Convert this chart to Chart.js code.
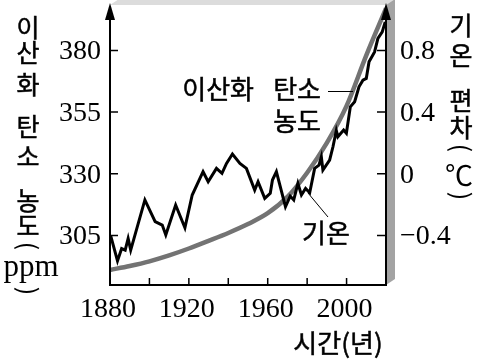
<!DOCTYPE html>
<html>
<head>
<meta charset="utf-8">
<script src="https://cdn.jsdelivr.net/npm/chart.js@4"></script>
<style>
  html, body { margin: 0; padding: 0; background: #fff; }
  #wrap { width: 482px; height: 361px; }
</style>
</head>
<body>
<div id="wrap"><canvas id="chart" width="482" height="361"></canvas></div>
<script>
// temperature anomaly trace (year, °C)
const tempYears = [1880.3, 1883.8, 1885.9, 1887.7, 1889.2, 1890.5, 1897.7, 1902.9, 1906.5, 1908.3,
  1913.3, 1918.0, 1921.7, 1927.2, 1929.8, 1934.0, 1936.8, 1939.1, 1942.1, 1945.9,
  1949.2, 1953.4, 1955.1, 1958.5, 1961.3, 1962.4, 1964.4, 1969.0, 1971.4, 1973.2,
  1975.3, 1977.1, 1979.2, 1981.3, 1983.8, 1986.0, 1987.2, 1988.0, 1991.4, 1993.1,
  1994.8, 1995.6, 1998.5, 1999.9, 2001.9, 2004.1, 2006.3, 2008.3, 2010.0, 2011.4,
  2014.2, 2015.9, 2018.1, 2019.6];
const tempValues = [-0.40, -0.565, -0.485, -0.495, -0.42, -0.495, -0.17, -0.31, -0.333, -0.397,
  -0.203, -0.35, -0.138, 0.013, -0.052, 0.035, 0.003, 0.067, 0.128, 0.067,
  0.035, -0.106, -0.052, -0.16, -0.127, -0.041, 0.013, -0.214, -0.145, -0.17,
  -0.062, -0.138, -0.095, -0.123, 0.035, 0.056, 0.11, 0.024, 0.089, 0.175,
  0.28, 0.24, 0.283, 0.262, 0.434, 0.467, 0.564, 0.607, 0.618, 0.726,
  0.79, 0.878, 0.92, 0.985];

// CO2 concentration curve (year, ppm)
const co2Years = [1880, 1890, 1900, 1910, 1920, 1930, 1940, 1950, 1960, 1970, 1980, 1990, 2000, 2010, 2020];
const co2Values = [291, 292.6, 294.5, 296.9, 299.7, 302.8, 306, 309.6, 314, 320.6, 330.4, 342.5, 357.5, 378, 397];

// axes
const xTickMarks = [1900, 1920, 1940, 1960, 1980, 2000];
const xTickLabels = [1880, 1920, 1960, 2000];
const co2Ticks = [305, 330, 355, 380];
const tempTicks = [-0.4, 0, 0.4, 0.8];
const tempTickLabels = ['\u22120.4', '0', '0.4', '0.8'];

const SERIF = '"Liberation Serif", "Times New Roman", serif';
const KR = '"Noto Sans CJK KR", "Noto Sans", sans-serif';
const NUM_FONT = '28px ' + SERIF;

// korean text a touch heavier, like the print
function krText(ctx, s, x, y) {
  ctx.fillText(s, x, y);
  ctx.lineWidth = 0.5;
  ctx.strokeText(s, x, y);
}
function vchar(ctx, ch, x, y, font) {
  ctx.font = font;
  ctx.textAlign = 'center';
  ctx.textBaseline = 'middle';
  krText(ctx, ch, x, y);
}
function vparen(ctx, ch, x, y) {
  ctx.save();
  ctx.translate(x, y);
  ctx.rotate(Math.PI / 2);
  ctx.font = '25px ' + KR;
  ctx.textAlign = 'center';
  ctx.textBaseline = 'middle';
  ctx.fillText(ch, 0, 0);
  ctx.restore();
}

const boxPlugin = {
  id: 'box',
  beforeDatasetsDraw(chart) {
    const { ctx, chartArea: a } = chart;
    const dx = 9, dy = -6;
    ctx.save();
    ctx.fillStyle = '#dcdcdc';
    ctx.beginPath();
    ctx.moveTo(a.left, a.top); ctx.lineTo(a.left + dx, a.top + dy);
    ctx.lineTo(a.right + dx, a.top + dy); ctx.lineTo(a.right, a.top);
    ctx.closePath(); ctx.fill();
    ctx.fillStyle = '#a3a3a3';
    ctx.beginPath();
    ctx.moveTo(a.right, a.top); ctx.lineTo(a.right + dx, a.top + dy);
    ctx.lineTo(a.right + dx, a.bottom + dy); ctx.lineTo(a.right, a.bottom);
    ctx.closePath(); ctx.fill();
    ctx.restore();
  },
  afterDatasetsDraw(chart) {
    const { ctx, chartArea: a, scales } = chart;
    const sx = scales.x, sy = scales.y, sy2 = scales.y2;
    ctx.save();
    ctx.strokeStyle = '#000';
    ctx.fillStyle = '#000';
    // axis lines
    ctx.lineWidth = 2;
    ctx.beginPath();
    ctx.moveTo(a.left, a.top + 8); ctx.lineTo(a.left, a.bottom);
    ctx.lineTo(a.right, a.bottom); ctx.lineTo(a.right, a.top + 8);
    ctx.stroke();
    // arrows
    [a.left, a.right].forEach(x => {
      ctx.beginPath();
      ctx.moveTo(x, a.top - 2); ctx.lineTo(x - 5, a.top + 15); ctx.lineTo(x + 5, a.top + 15);
      ctx.closePath(); ctx.fill();
    });
    // inward ticks
    ctx.lineWidth = 1.5;
    ctx.beginPath();
    xTickMarks.forEach(v => { const x = sx.getPixelForValue(v); ctx.moveTo(x, a.bottom); ctx.lineTo(x, a.bottom - 7); });
    co2Ticks.forEach(v => { const y = sy.getPixelForValue(v); ctx.moveTo(a.left, y); ctx.lineTo(a.left + 8, y); });
    tempTicks.forEach(v => { const y = sy2.getPixelForValue(v); ctx.moveTo(a.right, y); ctx.lineTo(a.right - 9, y); });
    ctx.stroke();

    // tick labels
    ctx.font = NUM_FONT;
    ctx.textBaseline = 'alphabetic';
    ctx.textAlign = 'right';
    co2Ticks.forEach(v => ctx.fillText(String(v), a.left - 9, sy.getPixelForValue(v) + 9));
    ctx.textAlign = 'left';
    tempTicks.forEach((v, i) => ctx.fillText(tempTickLabels[i], a.right + 14, sy2.getPixelForValue(v) + 9));
    ctx.textAlign = 'center';
    xTickLabels.forEach(v => ctx.fillText(String(v), sx.getPixelForValue(v) - 2, a.bottom + 32));

    // left axis title
    const f25 = '25px ' + KR;
    [['이', 27.5], ['산', 52.5], ['화', 84.5], ['탄', 126.5], ['소', 156], ['농', 200], ['도', 225]]
      .forEach(([c, y]) => vchar(ctx, c, 28, y, f25));
    vparen(ctx, '(', 28, 246);
    ctx.font = '31px ' + SERIF;
    ctx.textAlign = 'center'; ctx.textBaseline = 'alphabetic';
    ctx.fillText('ppm', 31, 276);
    vparen(ctx, ')', 28, 291);

    // right axis title
    [['기', 25], ['온', 55], ['편', 100], ['차', 127.5]].forEach(([c, y]) => vchar(ctx, c, 461, y, f25));
    vparen(ctx, '(', 461, 148);
    ctx.font = '28px ' + KR;
    ctx.fillText('\u2103', 459, 175);
    vparen(ctx, ')', 461, 196);

    // x axis title
    ctx.font = '26px ' + KR;
    ctx.textAlign = 'center'; ctx.textBaseline = 'middle';
    krText(ctx, '시간(년)', 338, 343);

    // annotations
    ctx.textAlign = 'right';
    krText(ctx, '이산화', 254, 89);
    krText(ctx, '탄소', 321, 89);
    krText(ctx, '농도', 321, 121);
    ctx.textAlign = 'center';
    krText(ctx, '기온', 326, 233);
    ctx.lineWidth = 1;
    ctx.beginPath();
    ctx.moveTo(328, 91.5); ctx.lineTo(353, 91.5);
    ctx.moveTo(308, 193); ctx.lineTo(328, 217);
    ctx.stroke();
    ctx.restore();
  }
};

function draw() {
  new Chart(document.getElementById('chart'), {
    type: 'line',
    data: {
      datasets: [
        {
          label: '기온',
          yAxisID: 'y2',
          data: tempYears.map((x, i) => ({ x, y: tempValues[i] })),
          borderColor: '#000', borderWidth: 3, borderJoinStyle: 'miter',
          pointRadius: 0, tension: 0, clip: false, order: 0
        },
        {
          label: '이산화 탄소 농도',
          yAxisID: 'y',
          data: co2Years.map((x, i) => ({ x, y: co2Values[i] })),
          borderColor: '#737373', borderWidth: 4.5, cubicInterpolationMode: 'monotone',
          pointRadius: 0, clip: false, order: 1
        }
      ]
    },
    options: {
      responsive: false,
      animation: false,
      events: [],
      layout: { padding: { left: 110, right: 96, top: 5, bottom: 76 } },
      plugins: { legend: { display: false }, tooltip: { enabled: false } },
      scales: {
        x: { type: 'linear', min: 1880, max: 2020, display: false },
        y: { type: 'linear', min: 284.9, max: 398.4, display: false },
        y2: { type: 'linear', min: -0.7216, max: 1.0944, display: false }
      }
    },
    plugins: [boxPlugin]
  });
}

Promise.all([
  document.fonts.load('28px "Liberation Serif"', '0123456789'),
  document.fonts.load('25px "Noto Sans CJK KR"', '이산화')
]).then(draw, draw);
</script>
</body>
</html>
